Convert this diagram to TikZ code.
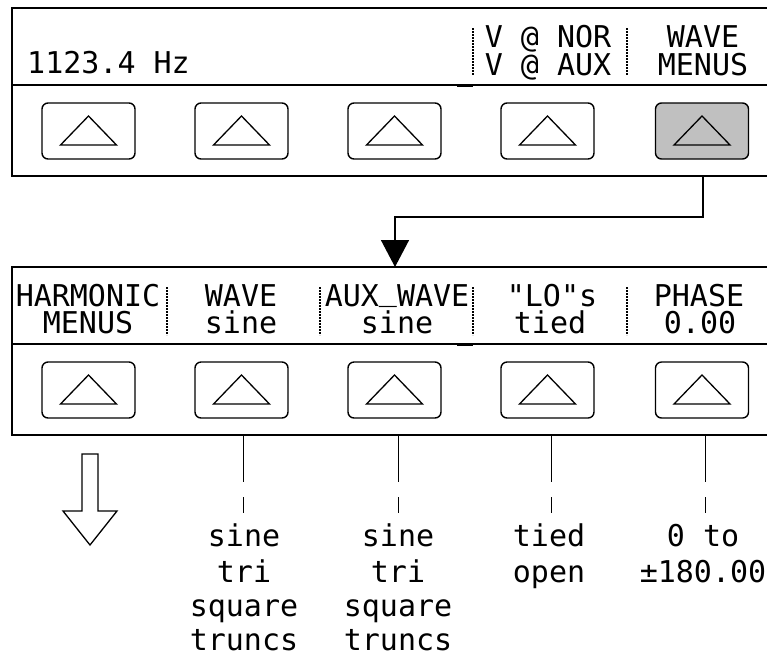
\documentclass[tikz,border=0pt]{standalone}
\usepackage{fontspec}
\setmonofont{DejaVu Sans Mono}
\usetikzlibrary{arrows.meta}
\definecolor{btngray}{RGB}{192,192,192}
\tikzset{
  panel/.style={line width=2pt},
  btn/.style={draw, line width=1.4pt, rounded corners=6pt, minimum width=93pt, minimum height=56pt, inner sep=0pt},
  tri/.style={line width=1.3pt, line join=miter},
  lbl/.style={font=\ttfamily\fontsize{30pt}{30pt}\selectfont, inner sep=0pt, anchor=base},
  lblw/.style={lbl, anchor=base west},
  sep/.style={line width=2.2pt, dash pattern=on 2.2pt off 0.8pt},
  cursor/.style={line width=3pt},
  link/.style={line width=1.4pt},
  thin/.style={line width=1pt},
  hollow/.style={line width=1.3pt, line join=miter}
}
\newcommand{\btntri}[1]{\draw[tri] (#1.center) ++(-28,14) -- ++(28,-29) -- ++(28,29) -- cycle;}
\begin{document}
\begin{tikzpicture}[x=1pt,y=-1pt]
\useasboundingbox (0,0) rectangle (767,657);
% ---------- top panel ----------
\draw[panel] (767,8) -- (12,8) -- (12,176) -- (767,176);
\draw[panel] (12,85) -- (767,85);
\draw[cursor] (457,85) -- (473,85);
\node[lblw] (freq) at (27,73) {1123.4 Hz};
\node[lbl] (vnor) at (548,47) {V @ NOR};
\node[lbl] (vaux) at (548,75) {V @ AUX};
\node[lbl] (wave1) at (703,47) {WAVE};
\node[lbl] (menus1) at (703,75) {MENUS};
\draw[sep] (473,28) -- (473,75);
\draw[sep] (627,28) -- (627,75);
\foreach \i/\x in {1/88.5,2/241.5,3/394.5,4/547.5}{
  \node[btn] (t\i) at (\x,131) {};
  \btntri{t\i}
}
\node[btn, fill=btngray] (t5) at (702,131) {};
\btntri{t5}
% ---------- connector ----------
\coordinate (c0) at (703,176);
\coordinate (c1) at (703,217);
\coordinate (c2) at (395,217);
\coordinate (c3) at (395,267);
\draw[link, -{Triangle[width=28pt,length=27pt]}] (c0) -- (c1) -- (c2) -- (c3);
% ---------- bottom panel ----------
\draw[panel] (767,267) -- (12,267) -- (12,435) -- (767,435);
\draw[panel] (12,344) -- (767,344);
\draw[cursor] (457,344) -- (473,344);
\node[lbl] (harm) at (88,306) {HARMONIC};
\node[lbl] (hmenus) at (88,333) {MENUS};
\node[lbl] (wave2) at (241,306) {WAVE};
\node[lbl] (wsine) at (241,333) {sine};
\node[lbl] (aux) at (397,306) {AUX\raisebox{6pt}{\_}WAVE};
\node[lbl] (asine) at (397,333) {sine};
\node[lbl] (lo) at (552,306) {"LO"s};
\node[lbl] (tied1) at (550,333) {tied};
\node[lbl] (phase) at (699,306) {PHASE};
\node[lbl] (ph0) at (700,333) {0.00};
\draw[sep] (167,287) -- (167,335);
\draw[sep] (320,287) -- (320,335);
\draw[sep] (473,287) -- (473,335);
\draw[sep] (627,287) -- (627,335);
\foreach \i/\x in {1/88.5,2/241.5,3/394.5,4/547.5,5/702}{
  \node[btn] (b\i) at (\x,390) {};
  \btntri{b\i}
}
% ---------- option lists ----------
\foreach \x in {243,398,551,705}{
  \draw[thin] (\x,435) -- (\x,482);
  \draw[thin] (\x,497) -- (\x,513);
}
\node[lbl] (l1a) at (244,546) {sine};
\node[lbl] (l1b) at (244,582) {tri};
\node[lbl] (l1c) at (244,616) {square};
\node[lbl] (l1d) at (244,650) {truncs};
\node[lbl] (l2a) at (398,546) {sine};
\node[lbl] (l2b) at (398,582) {tri};
\node[lbl] (l2c) at (398,616) {square};
\node[lbl] (l2d) at (398,650) {truncs};
\node[lbl] (l3a) at (549,546) {tied};
\node[lbl] (l3b) at (549,582) {open};
\node[lbl] (l4a) at (703,546) {0 to};
\node[lbl] (l4b) at (703,582) {±180.00};
% ---------- hollow arrow ----------
\draw[hollow] (82,454) -- (98,454) -- (98,511) -- (117,511) -- (90,545) -- (63,511) -- (82,511) -- cycle;
\end{tikzpicture}
\end{document}
